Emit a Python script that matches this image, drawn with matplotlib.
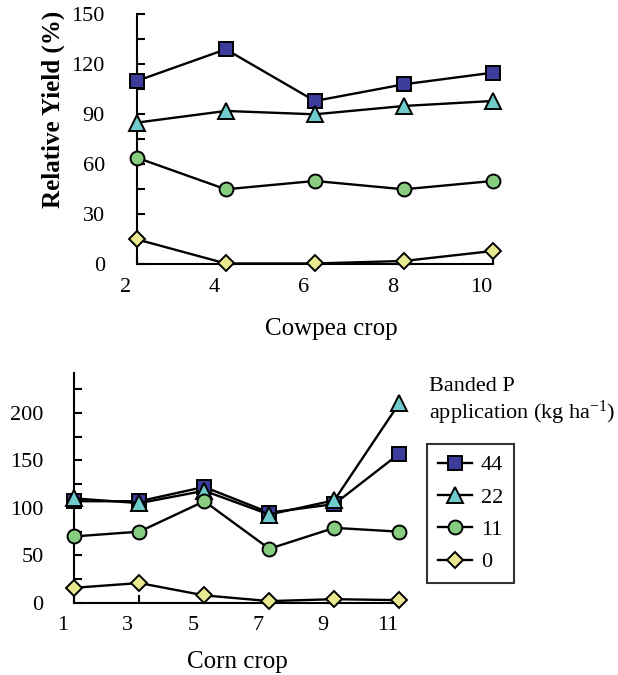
import matplotlib
matplotlib.use('Agg')
import matplotlib.pyplot as plt
from matplotlib.ticker import MultipleLocator
import matplotlib.transforms as mtransforms

plt.rcParams['font.family'] = ['Liberation Serif', 'DejaVu Serif']
plt.rcParams['mathtext.fontset'] = 'custom'
plt.rcParams['mathtext.rm'] = 'Liberation Serif'
plt.rcParams['mathtext.it'] = 'Liberation Serif:italic'

# ---- data ----
cowpea_crop = [2, 4, 6, 8, 10]
cowpea_44 = [110, 129, 98, 108, 115]
cowpea_22 = [85, 92, 90, 95, 98]
cowpea_11 = [64, 45, 50, 45, 50]
cowpea_0 = [15, 0.5, 0.5, 2, 8]

corn_crop = [1, 3, 5, 7, 9, 11]
corn_44 = [107, 107, 122, 95, 104, 157]
corn_22 = [110, 105, 118, 93, 108, 210]
corn_11 = [70, 75, 107, 57, 79, 75]
corn_0 = [16, 21, 8, 2, 4, 3]

rates = ['44', '22', '11', '0']
markers = ['s', '^', 'o', 'D']
msizes = [10, 12, 10, 8.5]
colors = ['#3c3c9c', '#70cccc', '#88cc80', '#e8e890']

W, H = 618, 675
fig = plt.figure(figsize=(W / 100, H / 100), dpi=100)


def px_axes(l, t, r, b):
    return fig.add_axes([l / W, 1 - b / H, (r - l) / W, (b - t) / H])


def style(ax, ypad, xpad):
    for s in ['top', 'right']:
        ax.spines[s].set_visible(False)
    for s in ['left', 'bottom']:
        ax.spines[s].set_linewidth(1.5)
    ax.tick_params(axis='both', which='both', direction='in', length=6,
                   width=1.5, labelsize=16)
    ax.tick_params(axis='y', pad=ypad)
    ax.tick_params(axis='x', pad=xpad)
    off = mtransforms.ScaledTranslation(-11.5 / 100, 0, fig.dpi_scale_trans)
    for lab in ax.get_xticklabels():
        lab.set_transform(lab.get_transform() + off)


# ---- top: cowpea ----
ax1 = px_axes(136.7, 14.3, 493, 264.3)
series1 = [cowpea_44, cowpea_22, cowpea_11, cowpea_0]
for vals, m, ms, c in zip(series1, markers, msizes, colors):
    ax1.plot(cowpea_crop, vals, color='black', lw=1.7, marker=m, ms=ms,
             mfc=c, mec='black', mew=1.4, clip_on=False, zorder=3)
ax1.set_xlim(2, 10)
ax1.set_ylim(0, 150)
ax1.set_xticks(cowpea_crop)
ax1.yaxis.set_major_locator(MultipleLocator(30))
ax1.yaxis.set_minor_locator(MultipleLocator(15))
style(ax1, 23, 10)
fig.text(53 / W, 1 - 109 / H, 'Relative Yield (%)', rotation=90,
         fontsize=18, fontweight='bold', ha='center', va='center')
fig.text(331 / W, 1 - 335 / H, 'Cowpea crop', fontsize=18,
         ha='center', va='baseline')

# ---- bottom: corn ----
ax2 = px_axes(74.3, 373.3, 399.3, 603)
series2 = [corn_44, corn_22, corn_11, corn_0]
handles = []
for vals, m, ms, c, lab in zip(series2, markers, msizes, colors, rates):
    h, = ax2.plot(corn_crop, vals, color='black', lw=1.7, marker=m, ms=ms,
                  mfc=c, mec='black', mew=1.4, clip_on=False, zorder=3,
                  label=lab)
    handles.append(h)
ax2.set_xlim(1, 11)
ax2.set_ylim(0, 241.5)
ax2.set_xticks(corn_crop)
ax2.set_yticks([0, 50, 100, 150, 200])
ax2.yaxis.set_minor_locator(MultipleLocator(25))
style(ax2, 22, 9)
fig.text(237 / W, 1 - 668 / H, 'Corn crop', fontsize=18,
         ha='center', va='baseline')

fig.text(429 / W, 1 - 390.7 / H, 'Banded P', fontsize=16,
         ha='left', va='baseline')
fig.text(429 / W, 1 - 419.3 / H, 'application (kg ha$^{-1}$)', fontsize=16,
         ha='left', va='baseline')

leg = fig.legend(handles=handles, loc='upper left',
                 bbox_to_anchor=(427 / W, 1 - 444 / H),
                 bbox_transform=fig.transFigure, fontsize=16,
                 frameon=True, fancybox=False, edgecolor='black',
                 handlelength=1.53, handletextpad=0.4, borderpad=0.49,
                 labelspacing=0.53, borderaxespad=0)
leg.get_frame().set_linewidth(1.5)

fig.savefig('out.png', dpi=100)
